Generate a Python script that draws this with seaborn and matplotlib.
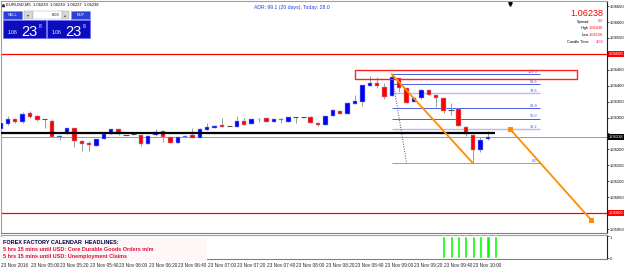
import matplotlib
matplotlib.use("Agg")
import matplotlib.pyplot as plt
import matplotlib.transforms as mtransforms
from matplotlib.patches import Rectangle
import seaborn as sns

# ---- EURUSD M5 candles, 23 Nov 2016 04:40 .. 10:10 ----
opens = [1.06263, 1.06279, 1.06294, 1.06285, 1.06313, 1.06305, 1.06294, 1.06290, 1.06239, 1.06251,
         1.06266, 1.06227, 1.06219, 1.06212, 1.06233, 1.06249, 1.06264, 1.06245, 1.06247, 1.06245,
         1.06217, 1.06244, 1.06259, 1.06238, 1.06221, 1.06238, 1.06245, 1.06236, 1.06261, 1.06268,
         1.06277, 1.06273, 1.06271, 1.06289, 1.06280, 1.06294, 1.06298, 1.06286, 1.06293, 1.06287,
         1.06301, 1.06301, 1.06303, 1.06284, 1.06277, 1.06305, 1.06322, 1.06311, 1.06343, 1.06350,
         1.06400, 1.06408, 1.06397, 1.06368, 1.06423, 1.06392, 1.06350, 1.06360, 1.06386, 1.06371,
         1.06360, 1.06324, 1.06326, 1.06271, 1.06245, 1.06198, 1.06232]
highs = [1.06286, 1.06305, 1.06298, 1.06317, 1.06321, 1.06308, 1.06294, 1.06294, 1.06244, 1.06267,
         1.06267, 1.06230, 1.06227, 1.06233, 1.06252, 1.06264, 1.06265, 1.06246, 1.06249, 1.06246,
         1.06244, 1.06264, 1.06260, 1.06239, 1.06239, 1.06243, 1.06267, 1.06266, 1.06282, 1.06276,
         1.06300, 1.06274, 1.06305, 1.06300, 1.06295, 1.06300, 1.06299, 1.06295, 1.06298, 1.06302,
         1.06302, 1.06303, 1.06304, 1.06285, 1.06306, 1.06325, 1.06323, 1.06348, 1.06371, 1.06403,
         1.06430, 1.06428, 1.06409, 1.06436, 1.06424, 1.06393, 1.06361, 1.06387, 1.06387, 1.06372,
         1.06361, 1.06346, 1.06327, 1.06272, 1.06246, 1.06238, 1.06259]
lows = [1.06258, 1.06277, 1.06284, 1.06283, 1.06300, 1.06290, 1.06266, 1.06239, 1.06230, 1.06249,
        1.06207, 1.06196, 1.06196, 1.06211, 1.06232, 1.06248, 1.06245, 1.06244, 1.06246, 1.06211,
        1.06216, 1.06243, 1.06223, 1.06220, 1.06220, 1.06237, 1.06236, 1.06235, 1.06260, 1.06267,
        1.06270, 1.06272, 1.06270, 1.06276, 1.06279, 1.06287, 1.06286, 1.06285, 1.06284, 1.06286,
        1.06284, 1.06299, 1.06283, 1.06274, 1.06276, 1.06304, 1.06310, 1.06310, 1.06342, 1.06337,
        1.06399, 1.06393, 1.06357, 1.06367, 1.06381, 1.06346, 1.06349, 1.06359, 1.06370, 1.06334,
        1.06315, 1.06308, 1.06272, 1.06242, 1.06156, 1.06193, 1.06230]
closes = [1.06282, 1.06295, 1.06286, 1.06311, 1.06303, 1.06292, 1.06294, 1.06240, 1.06243, 1.06266,
          1.06226, 1.06217, 1.06213, 1.06233, 1.06247, 1.06264, 1.06249, 1.06245, 1.06247, 1.06217,
          1.06243, 1.06256, 1.06240, 1.06221, 1.06238, 1.06242, 1.06237, 1.06263, 1.06269, 1.06274,
          1.06271, 1.06273, 1.06289, 1.06277, 1.06294, 1.06296, 1.06287, 1.06294, 1.06291, 1.06301,
          1.06301, 1.06301, 1.06284, 1.06276, 1.06305, 1.06324, 1.06311, 1.06347, 1.06353, 1.06402,
          1.06408, 1.06399, 1.06366, 1.06428, 1.06392, 1.06347, 1.06360, 1.06386, 1.06371, 1.06360,
          1.06322, 1.06324, 1.06273, 1.06248, 1.06198, 1.06230, 1.06238]

time_labels = ["23 Nov 2016", "23 Nov 05:00", "23 Nov 05:20", "23 Nov 05:40", "23 Nov 06:00",
               "23 Nov 06:20", "23 Nov 06:40", "23 Nov 07:00", "23 Nov 07:20", "23 Nov 07:40",
               "23 Nov 08:00", "23 Nov 08:20", "23 Nov 08:40", "23 Nov 09:00", "23 Nov 09:20",
               "23 Nov 09:40", "23 Nov 10:00"]
BARS_PER_LABEL = 4  # 20 min on M5

# price scale ticks
price_ticks = [1.0595, 1.0600, 1.0605, 1.0610, 1.0615, 1.0620, 1.0625, 1.0630,
               1.0635, 1.0640, 1.0645, 1.0650, 1.0655, 1.0660, 1.0665]

# drawn objects
red_levels = [1.0650, 1.0600]
support_level = 1.06251
bid = 1.06238
fib_high, fib_low = 1.06436, 1.06156
fib_high_bar, fib_low_bar, fib_end_bar = 53, 64, 73
fib_levels = [0.0, 38.2, 50.0, 61.8, 78.6, 88.6, 100.0]
trend1_bars, trend1_prices = [53, 64], [1.06436, 1.06156]
trend2_bars, trend2_prices = [69, 80], [1.06264, 1.05978]
dotted_bars, dotted_prices = [53, 55], [1.06436, 1.06156]
zone_bars, zone_prices = [48, 78], [1.06421, 1.06449]

# signal sub-window
signal_bars = [60, 61, 62, 63, 64, 65, 66, 67]
signal_values = [1, 1, 1, 1, 1, 1, 1, 1]

# panel / info values
header = "EURUSD,M5  1.06239  1.06239  1.06237  1.06238"
lot_size = 6.00
spread, day_high, day_low, candle_time = 0.0, 1.06436, 1.06156, "4:59"
adr_text = "ADR: 99.1 (20 days), Today: 28.0"
news_title = "FOREX FACTORY CALENDAR  HEADLINES:"
news_items = ["5 hrs 15 mins until USD: Core Durable Goods Orders m/m",
              "5 hrs 15 mins until USD: Unemployment Claims"]

W, H = 625, 269
SMALL = 3.4
AXIS_FS = 3.0


def fx(px):
    return px / W


def fy(py):
    return 1 - py / H


def draw_candles(ax):
    for i, (o, h, l, c) in enumerate(zip(opens, highs, lows, closes)):
        ax.vlines(i, l, h, color="#8c8c8c", lw=0.6, zorder=3)
        if o == c:
            ax.hlines(o, i - 0.35, i + 0.35, color="#505050", lw=0.8, zorder=4)
            continue
        col = "#0000ff" if c > o else "#ff0000"
        ax.bar(i, max(abs(c - o), 0.00003), bottom=min(o, c), width=0.6,
               color=col, edgecolor="#9fb0c8", linewidth=0.35, zorder=4)


def draw_objects(ax):
    full = ax.get_xlim()
    for lvl in red_levels:
        ax.axhline(lvl, color="#ff0000", lw=0.9, zorder=2)
    ax.axhline(bid, color="#8a8a8a", lw=0.6, zorder=2)
    ax.hlines(support_level, full[0], len(opens), color="#000000", lw=1.6, zorder=5)

    # fibonacci
    fib_colors = {0.0: "#8c98e6", 38.2: "#b4bcf0", 50.0: "#4a5ee0", 61.8: "#4a5ee0",
                  78.6: "#b4bcf0", 88.6: "#4a5ee0", 100.0: "#4a5ee0"}
    for lvl in fib_levels:
        p = fib_low + (fib_high - fib_low) * lvl / 100
        ax.hlines(p, fib_high_bar, fib_end_bar, color=fib_colors[lvl],
                  lw=1.0 if fib_colors[lvl] == "#b4bcf0" else 0.7, zorder=2)
        ax.text(fib_end_bar - 0.3, p + 0.00002, f"{lvl:.1f}", color="#4a5ee0",
                fontsize=2.8, ha="right", va="bottom", zorder=6)
    ax.plot(dotted_bars, dotted_prices, color="#4040a0", lw=0.7, ls=(0, (1, 1.5)), zorder=2)

    # supply zone
    ax.add_patch(Rectangle((zone_bars[0], zone_prices[0]), zone_bars[1] - zone_bars[0],
                           zone_prices[1] - zone_prices[0], fill=False, ec="#ff2020",
                           lw=1.0, zorder=6))

    # trend lines
    sns.lineplot(x=trend1_bars, y=trend1_prices, ax=ax, color="#ff8c00", lw=1.3, zorder=6)
    sns.lineplot(x=trend2_bars, y=trend2_prices, ax=ax, color="#ff8c00", lw=1.3, zorder=6,
                 marker="s", markersize=2.5, markeredgecolor="#ff8c00")


def draw_price_axis(ax):
    ax.yaxis.tick_right()
    ax.set_yticks(price_ticks)
    boxed = red_levels + [bid]
    labels = ["" if min(abs(p - b) for b in boxed) < 0.0002 else f"{p:.5f}" for p in price_ticks]
    ax.set_yticklabels(labels)
    ax.tick_params(axis="y", labelsize=AXIS_FS, length=1.5, width=0.5, pad=0.6, colors="black")
    ax.set_xticks([])
    tr = mtransforms.blended_transform_factory(ax.transAxes, ax.transData)
    for lvl in red_levels:
        ax.text(1.003, lvl, f"{lvl:.5f}", transform=tr, color="white", fontsize=AXIS_FS,
                va="center", ha="left", clip_on=False, zorder=20,
                bbox=dict(boxstyle="square,pad=0.2", fc="#ff0000", ec="none"))
    ax.text(1.003, bid, f"{bid:.5f}", transform=tr, color="white", fontsize=AXIS_FS,
            va="center", ha="left", clip_on=False, zorder=20,
            bbox=dict(boxstyle="square,pad=0.2", fc="#000000", ec="none"))
    # chart shift marker
    trx = mtransforms.blended_transform_factory(ax.transData, ax.transAxes)
    ax.plot([69], [0.985], marker="v", color="black", markersize=2.5, transform=trx,
            clip_on=False, zorder=20)


def draw_panel(ov):
    btn = "#2a3fd4"
    ov.add_patch(Rectangle((3, 11), 19, 8, fc=btn, ec="#7f8ff0", lw=0.4))
    ov.text(12.5, 15.3, "SELL", color="white", fontsize=2.9, ha="center", va="center")
    ov.add_patch(Rectangle((24, 11), 9, 8, fc="#d6d6d6", ec="#a8a8a8", lw=0.3))
    ov.text(28.5, 15, "▾", color="#404040", fontsize=3, ha="center", va="center")
    ov.add_patch(Rectangle((33, 11), 29, 8, fc="white", ec="#a8a8a8", lw=0.3))
    ov.text(59, 15.3, f"{lot_size:.2f}", color="black", fontsize=2.9, ha="right", va="center")
    ov.add_patch(Rectangle((62, 11), 7, 8, fc="#d6d6d6", ec="#a8a8a8", lw=0.3))
    ov.text(65.5, 15, "▴", color="#404040", fontsize=3, ha="center", va="center")
    ov.add_patch(Rectangle((71, 11), 19, 8, fc=btn, ec="#7f8ff0", lw=0.4))
    ov.text(80.5, 15.3, "BUY", color="white", fontsize=2.9, ha="center", va="center")

    s = f"{bid:.5f}"
    for x0 in (3, 47):
        ov.add_patch(Rectangle((x0, 19.5), 43, 18.5, fc="#0c0cbf", ec="#6060ff", lw=0.4))
        ov.text(x0 + 5, 34.5, s[:4], color="white", fontsize=3.6, ha="left", va="baseline")
        ov.text(x0 + 18.5, 36.5, s[4:6], color="white", fontsize=10.5, ha="left", va="baseline")
        ov.text(x0 + 35.5, 27.5, s[6], color="white", fontsize=3.6, ha="left", va="baseline")

    ov.plot([3], [4.6], marker="^", color="#303030", markersize=1.6)
    ov.text(6, 4.8, header, color="black", fontsize=3.0, ha="left", va="center")
    ov.text(254, 7, adr_text, color="#1f3fdf", fontsize=3.7, ha="left", va="center")

    ov.text(603, 13, f"{bid:.5f}", color="#ff0000", fontsize=6.6, ha="right", va="center")
    rows = [("Spread", f"{spread:.1f}", "#ff00a0"), ("High", f"{day_high:.5f}", "#ff0000"),
            ("Low", f"{day_low:.5f}", "#ff0000"), ("Candle Time", candle_time, "#ff00a0")]
    for k, (name, val, col) in enumerate(rows):
        y = 21.5 + k * 6.8
        ov.text(589, y, name, color="black", fontsize=2.8, ha="right", va="center")
        ov.text(603, y, val, color=col, fontsize=2.8, ha="right", va="center")

    ov.add_patch(Rectangle((1, 237), 206, 24, fc="#fdf7f7", ec="none"))
    ov.text(3, 242.5, news_title, color="#000040", fontsize=4.0, fontweight="bold",
            ha="left", va="center")
    for k, item in enumerate(news_items):
        ov.text(3, 249.5 + k * 6.8, item, color="#e0103c", fontsize=4.0, fontweight="bold",
                ha="left", va="center")


def draw_signal(ax2):
    ax2.bar(signal_bars, signal_values, width=0.42, color="#00ff00", zorder=3)
    ax2.set_ylim(-0.045, 1.045)
    ax2.yaxis.tick_right()
    ax2.set_yticks([0, 1])
    ax2.set_yticklabels(["0", "1"])
    ax2.get_yticklabels()[1].set_va("top")
    ax2.tick_params(axis="y", labelsize=AXIS_FS, length=1.5, width=0.5, pad=0.6)
    ticks = [i * BARS_PER_LABEL for i in range(len(time_labels))]
    ax2.set_xticks(ticks)
    ax2.set_xticklabels(time_labels)
    for lbl in ax2.get_xticklabels():
        lbl.set_ha("left")
    ax2.tick_params(axis="x", labelsize=SMALL, length=1.5, width=0.5, pad=1.2)


if __name__ == "__main__":
    sns.set_theme(style="white")
    plt.rcParams["font.family"] = ["Liberation Sans", "DejaVu Sans"]

    fig = plt.figure(figsize=(W / 100, H / 100), dpi=100)
    fig.patch.set_facecolor("white")
    ax = fig.add_axes([fx(1), fy(233), fx(607) - fx(1), fy(1) - fy(233)])
    ax2 = fig.add_axes([fx(1), fy(259), fx(607) - fx(1), fy(235) - fy(259)])
    ov = fig.add_axes([0, 0, 1, 1])
    ov.set_xlim(0, W)
    ov.set_ylim(H, 0)
    ov.axis("off")
    ov.patch.set_alpha(0)
    ov.set_zorder(10)

    xlim = (0.07, 82.13)
    for a in (ax, ax2):
        a.set_xlim(*xlim)
        a.set_facecolor("white")
        for side, col in (("left", "#a0a0a0"), ("top", "#a0a0a0"),
                          ("right", "#202020"), ("bottom", "#808080")):
            a.spines[side].set_color(col)
            a.spines[side].set_linewidth(0.8)
    ax.set_ylim(1.059375, 1.06666)

    draw_candles(ax)
    draw_objects(ax)
    ax.set_xlim(*xlim)
    ax.set_ylim(1.059375, 1.06666)
    draw_price_axis(ax)
    draw_signal(ax2)
    draw_panel(ov)

    fig.savefig("out.png", dpi=100)
